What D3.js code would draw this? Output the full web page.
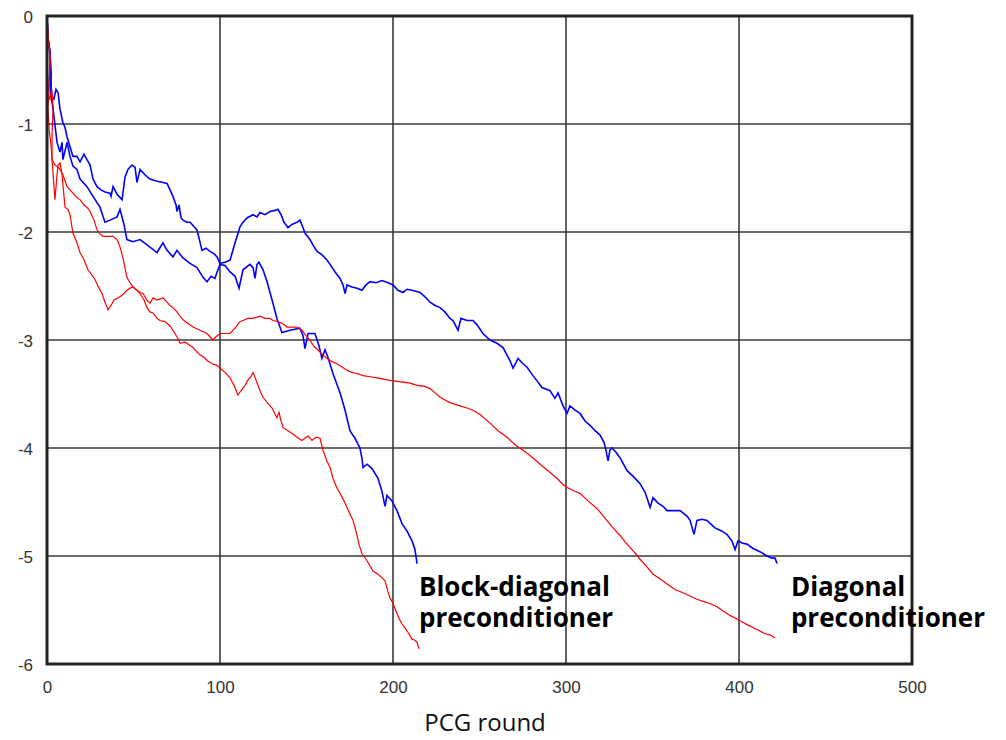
<!DOCTYPE html>
<html>
<head>
<meta charset="utf-8">
<script src="https://cdn.jsdelivr.net/npm/d3@7"></script>
<style>
  html, body { margin: 0; padding: 0; background: #fff; }
  svg { display: block; }
</style>
</head>
<body>
<svg id="chart" width="1006" height="740"></svg>
<script>
// ---- data (PCG round, log10 residual) ----
const xTicks = [0, 100, 200, 300, 400, 500];
const yTicks = [0, -1, -2, -3, -4, -5, -6];
const xLabel = "PCG round";
const labelBlock = ["Block-diagonal", "preconditioner"];
const labelDiag = ["Diagonal", "preconditioner"];

// Diagonal preconditioner, blue
const diagBlue = [[0,0],[0.6,-0.21],[1.7,-0.33],[2.3,-0.54],[2.3,-0.74],[4.0,-0.77],[5.2,-0.68],[6.4,-0.71],[7.5,-0.86],[9.2,-0.99],[10.4,-1.03],[11.6,-1.12],[13.3,-1.21],[15.0,-1.30],[17.3,-1.30],[19.1,-1.35],[21.4,-1.28],[23.1,-1.33],[24.9,-1.38],[26.6,-1.51],[28.9,-1.58],[31.2,-1.61],[33.5,-1.63],[36.4,-1.64],[37.0,-1.67],[38.2,-1.58],[40.5,-1.65],[43.4,-1.70],[45.1,-1.49],[46.8,-1.42],[49.1,-1.38],[50.9,-1.40],[52.0,-1.54],[53.8,-1.42],[56.6,-1.47],[59.5,-1.51],[63.6,-1.53],[66.5,-1.54],[69.4,-1.55],[72.8,-1.67],[74.6,-1.75],[75.1,-1.81],[76.3,-1.75],[77.5,-1.87],[78.6,-1.89],[80.9,-1.91],[82.7,-1.91],[86.7,-1.98],[89.6,-2.17],[91.9,-2.15],[94.2,-2.18],[96.5,-2.20],[98.3,-2.23],[100.0,-2.29],[102.9,-2.28],[105.8,-2.26],[108.7,-2.10],[111.6,-1.95],[113.3,-1.91],[115.6,-1.87],[119.1,-1.84],[121.4,-1.86],[123.1,-1.82],[126.0,-1.84],[128.9,-1.81],[131.8,-1.80],[133.5,-1.79],[135.3,-1.84],[137.0,-1.91],[139.3,-1.96],[141.6,-1.93],[144.5,-1.91],[146.2,-1.89],[148.0,-1.96],[149.1,-2.01],[152.0,-2.07],[153.7,-2.12],[156.1,-2.18],[158.9,-2.21],[161.8,-2.26],[163.6,-2.30],[166.5,-2.37],[169.4,-2.43],[171.1,-2.49],[172.3,-2.57],[173.4,-2.49],[176.3,-2.51],[179.2,-2.52],[182.1,-2.54],[184.4,-2.49],[186.7,-2.46],[190.2,-2.47],[193.6,-2.45],[197.1,-2.47],[200.0,-2.49],[202.9,-2.54],[205.8,-2.56],[208.1,-2.53],[211.0,-2.54],[215.6,-2.56],[218.5,-2.60],[221.4,-2.65],[224.3,-2.68],[227.2,-2.70],[230.0,-2.74],[232.9,-2.80],[234.7,-2.82],[237.6,-2.91],[239.3,-2.80],[242.8,-2.82],[246.2,-2.82],[248.6,-2.86],[252.0,-2.94],[256.1,-3.00],[260.1,-3.03],[263.6,-3.07],[265.9,-3.14],[267.6,-3.19],[269.4,-3.26],[271.1,-3.21],[272.3,-3.17],[275.1,-3.22],[277.4,-3.25],[280.9,-3.33],[283.8,-3.39],[286.1,-3.44],[290.8,-3.47],[293.6,-3.54],[295.4,-3.49],[298.3,-3.61],[300.6,-3.68],[302.3,-3.61],[305.2,-3.65],[308.1,-3.68],[311.0,-3.75],[313.9,-3.79],[316.8,-3.84],[319.7,-3.88],[322.0,-3.95],[323.1,-4.02],[324.3,-4.12],[325.4,-4.02],[326.6,-4.00],[328.9,-4.04],[331.2,-4.09],[335.3,-4.21],[338.7,-4.26],[342.8,-4.33],[345.7,-4.41],[347.4,-4.49],[348.6,-4.55],[350.3,-4.46],[353.2,-4.51],[356.1,-4.54],[358.4,-4.58],[361.8,-4.58],[365.9,-4.58],[369.9,-4.63],[371.7,-4.67],[374.0,-4.80],[375.7,-4.67],[378.6,-4.66],[381.5,-4.67],[386.1,-4.74],[390.2,-4.77],[393.0,-4.80],[395.9,-4.86],[397.7,-4.94],[399.4,-4.86],[401.7,-4.88],[404.6,-4.89],[408.1,-4.93],[412.1,-4.96],[416.2,-5.00],[419.1,-5.02],[420.8,-5.02],[422.0,-5.07]];

// Block-diagonal preconditioner, blue
const blockBlue = [[0,0],[0.6,-0.21],[1.7,-0.33],[2.3,-0.54],[2.3,-0.74],[3.5,-0.86],[5.8,-1.17],[7.5,-1.26],[8.7,-1.17],[9.2,-1.33],[11.6,-1.17],[13.3,-1.30],[15.0,-1.39],[17.3,-1.42],[19.1,-1.51],[23.1,-1.58],[26.6,-1.67],[30.6,-1.77],[33.5,-1.91],[36.4,-1.89],[40.5,-1.86],[42.2,-1.79],[44.5,-1.93],[46.2,-2.07],[49.7,-2.09],[53.8,-2.07],[57.8,-2.12],[63.6,-2.19],[67.0,-2.10],[69.4,-2.17],[72.8,-2.23],[75.1,-2.17],[78.6,-2.24],[82.7,-2.29],[86.7,-2.33],[90.2,-2.42],[92.5,-2.46],[94.8,-2.41],[97.1,-2.43],[98.8,-2.35],[100.0,-2.30],[102.9,-2.31],[105.8,-2.37],[108.7,-2.41],[111.0,-2.52],[113.3,-2.35],[117.3,-2.30],[119.1,-2.33],[120.2,-2.43],[121.4,-2.30],[122.5,-2.28],[124.9,-2.35],[127.2,-2.46],[128.9,-2.56],[130.6,-2.66],[132.9,-2.80],[135.8,-2.93],[140.5,-2.91],[146.2,-2.89],[148.0,-2.96],[149.1,-3.08],[150.9,-2.94],[154.9,-2.94],[157.2,-3.05],[158.9,-3.17],[160.7,-3.09],[162.4,-3.16],[165.3,-3.31],[169.4,-3.49],[172.3,-3.65],[175.1,-3.84],[178.0,-3.91],[180.9,-4.00],[182.1,-4.10],[182.7,-4.18],[185.0,-4.15],[187.9,-4.19],[191.3,-4.28],[193.6,-4.40],[195.4,-4.54],[196.5,-4.44],[199.4,-4.49],[202.3,-4.58],[205.2,-4.70],[208.1,-4.77],[211.0,-4.86],[212.7,-4.94],[213.9,-5.07]];

// Diagonal preconditioner, red
const diagRed = [[0,0],[0.6,-0.17],[1.7,-0.37],[1.7,-0.42],[1.2,-0.59],[0.6,-0.72],[1.7,-0.77],[2.9,-0.68],[3.5,-0.86],[2.9,-1.10],[2.9,-1.33],[4.6,-1.70],[5.8,-1.47],[6.4,-1.38],[7.5,-1.36],[8.7,-1.47],[10.4,-1.77],[12.1,-1.79],[13.3,-1.84],[15.0,-2.01],[17.3,-2.10],[19.1,-2.19],[21.4,-2.26],[23.7,-2.35],[26.0,-2.40],[27.7,-2.44],[30.1,-2.52],[31.8,-2.57],[33.5,-2.65],[35.3,-2.72],[37.0,-2.68],[38.7,-2.63],[42.2,-2.60],[44.5,-2.57],[46.2,-2.54],[48.0,-2.52],[49.7,-2.51],[52.0,-2.54],[53.8,-2.56],[55.5,-2.57],[57.8,-2.63],[59.5,-2.66],[61.3,-2.61],[63.6,-2.63],[67.0,-2.61],[69.4,-2.65],[71.1,-2.68],[72.8,-2.70],[75.1,-2.74],[76.9,-2.78],[79.2,-2.82],[80.9,-2.84],[84.4,-2.88],[88.4,-2.91],[92.5,-2.94],[94.2,-2.97],[96.0,-3.00],[97.7,-2.97],[100.0,-2.94],[102.9,-2.94],[105.8,-2.94],[108.7,-2.89],[111.6,-2.83],[113.3,-2.82],[116.2,-2.80],[119.1,-2.80],[123.1,-2.78],[126.0,-2.80],[128.9,-2.80],[130.6,-2.82],[133.5,-2.83],[136.4,-2.85],[138.7,-2.88],[141.6,-2.88],[144.5,-2.88],[147.4,-2.91],[149.7,-2.96],[152.0,-3.00],[154.3,-3.06],[156.6,-3.09],[158.9,-3.13],[161.8,-3.17],[164.7,-3.20],[167.6,-3.22],[170.5,-3.25],[173.4,-3.28],[176.3,-3.30],[179.2,-3.31],[182.7,-3.33],[186.7,-3.34],[190.8,-3.35],[193.6,-3.36],[196.5,-3.37],[201.2,-3.38],[205.8,-3.39],[209.8,-3.40],[213.9,-3.42],[218.5,-3.43],[221.4,-3.45],[224.3,-3.49],[227.2,-3.53],[232.9,-3.58],[238.7,-3.61],[242.8,-3.63],[246.2,-3.65],[250.3,-3.69],[256.1,-3.77],[260.7,-3.84],[265.9,-3.90],[270.5,-3.97],[275.1,-4.02],[279.2,-4.07],[285.0,-4.15],[289.6,-4.21],[294.8,-4.28],[298.3,-4.34],[301.2,-4.37],[305.2,-4.40],[308.1,-4.42],[312.7,-4.49],[317.9,-4.56],[322.5,-4.65],[327.2,-4.74],[331.2,-4.81],[335.3,-4.89],[338.7,-4.95],[342.8,-5.03],[346.8,-5.10],[350.3,-5.17],[354.3,-5.21],[358.4,-5.26],[363.0,-5.31],[367.6,-5.34],[371.7,-5.37],[375.7,-5.40],[379.2,-5.42],[383.2,-5.44],[387.3,-5.47],[390.8,-5.51],[394.8,-5.55],[400.6,-5.60],[405.2,-5.64],[410.4,-5.68],[415.0,-5.72],[417.9,-5.73],[420.8,-5.76]];

// Block-diagonal preconditioner, red
const blockRed = [[0,0],[0.6,-0.21],[1.7,-0.40],[1.2,-0.70],[0.6,-0.86],[1.2,-1.05],[2.3,-1.19],[2.9,-1.33],[4.6,-1.38],[5.8,-1.39],[7.5,-1.42],[9.2,-1.47],[11.6,-1.58],[13.3,-1.61],[15.0,-1.64],[17.3,-1.68],[19.1,-1.70],[21.4,-1.75],[23.1,-1.77],[24.9,-1.81],[27.2,-1.89],[28.9,-1.98],[30.6,-2.02],[32.4,-2.04],[35.3,-2.04],[38.2,-2.04],[40.5,-2.07],[42.2,-2.14],[43.9,-2.24],[46.2,-2.42],[48.0,-2.47],[49.7,-2.51],[52.0,-2.54],[53.8,-2.57],[56.1,-2.63],[57.8,-2.70],[59.5,-2.74],[61.3,-2.75],[63.6,-2.80],[65.3,-2.82],[68.2,-2.83],[71.1,-2.87],[72.8,-2.91],[75.1,-2.97],[76.9,-3.03],[79.8,-3.02],[82.7,-3.05],[84.4,-3.07],[86.7,-3.11],[88.4,-3.14],[90.8,-3.16],[92.5,-3.19],[95.4,-3.22],[97.7,-3.23],[100.0,-3.26],[102.9,-3.30],[105.8,-3.35],[108.1,-3.42],[110.4,-3.51],[112.1,-3.47],[114.5,-3.42],[116.2,-3.37],[117.9,-3.34],[119.1,-3.30],[120.8,-3.37],[123.1,-3.47],[124.9,-3.53],[127.7,-3.59],[130.1,-3.63],[132.9,-3.72],[134.1,-3.67],[135.3,-3.75],[136.4,-3.81],[139.3,-3.84],[142.2,-3.87],[144.5,-3.90],[147.4,-3.93],[149.1,-3.91],[150.9,-3.89],[153.2,-3.93],[155.5,-3.90],[157.8,-3.91],[159.5,-4.02],[161.8,-4.12],[163.6,-4.18],[165.3,-4.28],[167.6,-4.37],[169.4,-4.42],[171.7,-4.49],[173.4,-4.55],[175.1,-4.61],[176.9,-4.67],[178.6,-4.77],[180.3,-4.89],[182.1,-4.98],[184.4,-5.03],[186.7,-5.09],[188.4,-5.14],[191.3,-5.17],[193.6,-5.20],[195.4,-5.23],[197.1,-5.33],[198.3,-5.39],[200.0,-5.44],[201.7,-5.51],[203.5,-5.58],[205.2,-5.63],[207.5,-5.68],[209.2,-5.72],[211.0,-5.77],[212.7,-5.78],[213.9,-5.80],[215.0,-5.86]];

// ---- drawing ----
const svg = d3.select("#chart");
const plot = { left: 47, right: 912, top: 16, bottom: 664 };
const x = d3.scaleLinear().domain([0, 500]).range([plot.left, plot.right]);
const y = d3.scaleLinear().domain([0, -6]).range([plot.top, plot.bottom]);

// grid
const grid = svg.append("g");
grid.selectAll("line.v").data(xTicks.slice(1, -1)).join("line")
  .attr("x1", d => x(d)).attr("x2", d => x(d))
  .attr("y1", plot.top).attr("y2", plot.bottom)
  .attr("stroke", "#3a3a3a").attr("stroke-width", 1.6);
grid.selectAll("line.h").data(yTicks.slice(1, -1)).join("line")
  .attr("y1", d => y(d)).attr("y2", d => y(d))
  .attr("x1", plot.left).attr("x2", plot.right)
  .attr("stroke", "#3a3a3a").attr("stroke-width", 1.6);

// axes labels via d3 axes
const xAxis = d3.axisBottom(x).tickValues(xTicks).tickSize(0).tickPadding(0).tickFormat(d3.format("d"));
const gx = svg.append("g").attr("transform", `translate(0,${plot.bottom})`).call(xAxis);
gx.select(".domain").remove();
gx.selectAll("text").attr("dy", null).attr("y", 29)
  .style("font-family", "'Liberation Sans', Arial, sans-serif").style("font-size", "17px").attr("fill", "#333");

const yAxis = d3.axisLeft(y).tickValues(yTicks).tickSize(0).tickPadding(0).tickFormat(d3.format("d"));
const gy = svg.append("g").attr("transform", `translate(33,0)`).call(yAxis);
gy.select(".domain").remove();
gy.selectAll("text").attr("x", 0).attr("dy", "0.36em")
  .style("font-family", "'Liberation Sans', Arial, sans-serif").style("font-size", "17px").attr("fill", "#333");
gy.selectAll("text").text(d => d === 0 ? "0" : "-" + Math.abs(d));

// series
const line = d3.line().x(d => x(d[0])).y(d => y(d[1]));
const series = [
  { data: blockBlue, color: "#0000ff", w: 1.6 },
  { data: diagBlue, color: "#0000ff", w: 1.6 },
  { data: diagRed, color: "#ff0000", w: 1.2 },
  { data: blockRed, color: "#ff0000", w: 1.2 }
];
svg.append("g").selectAll("path").data(series).join("path")
  .attr("d", d => line(d.data))
  .attr("fill", "none")
  .attr("stroke", d => d.color)
  .attr("stroke-width", d => d.w)
  .attr("stroke-linejoin", "miter");

// frame
svg.append("rect")
  .attr("x", plot.left).attr("y", plot.top)
  .attr("width", plot.right - plot.left).attr("height", plot.bottom - plot.top)
  .attr("fill", "none").attr("stroke", "#222").attr("stroke-width", 3);

// x label
svg.append("text").attr("x", 485).attr("y", 731).attr("text-anchor", "middle")
  .style("font-family", "'Open Sans', 'Noto Sans', sans-serif").style("font-size", "24px")
  .attr("fill", "#111").text(xLabel);

// annotations
function annot(lines, x0, y0) {
  const t = svg.append("text").attr("x", x0).attr("y", y0)
    .style("font-family", "'Open Sans', 'Noto Sans', sans-serif")
    .style("font-size", "26px").style("font-weight", "bold").attr("fill", "#000");
  lines.forEach((s, i) => t.append("tspan").attr("x", x0).attr("dy", i === 0 ? 0 : 31).text(s));
}
annot(labelBlock, x(215), 596);
annot(labelDiag, x(430), 596);
</script>
</body>
</html>
